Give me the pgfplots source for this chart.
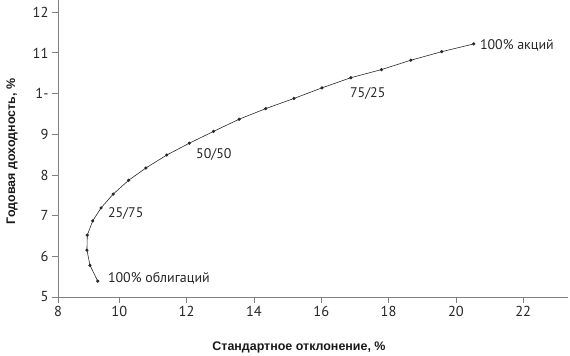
\documentclass[border=0pt]{standalone}
\usepackage{fontspec}
\setmainfont{PT Sans}
\newfontfamily\labelfont{Liberation Sans}
\usepackage{pgfplots}
\pgfplotsset{compat=1.18}
\begin{document}
\begin{tikzpicture}
\begin{axis}[
 scale only axis, width=510bp, height=297bp,
 xmin=8.18, xmax=23.33, ymin=5, ymax=12.3,
 axis lines*=left,
 axis line style={draw=black!50, line width=0.8pt},
 xtick={8.18,10,12,14,16,18,20,22}, xticklabels={8,10,12,14,16,18,20,22},
 ytick={5,6,...,12},
 yticklabels={5,6,7,8,9,1-,11,12},
 tick align=outside, major tick length=6bp,
 tick style={draw=black!50, line width=0.8pt},
 ticklabel style={font=\fontsize{14.5}{16}\selectfont, text=black!85},
 /pgf/number format/assume math mode=true,
 xlabel={Стандартное отклонение, \%},
 ylabel={Годовая доходность, \%},
 label style={font=\labelfont\fontsize{12.5}{14}\selectfont\bfseries, text=black!90},
 xlabel style={at={(axis description cs:0.4725,0)}, anchor=center, yshift=-50bp},
 ylabel style={at={(axis description cs:-0.09,0.49)}, anchor=center},
 clip=false,
]
\coordinate (O) at (rel axis cs:0,0);
\addplot[black!85, line width=0.6pt, mark=*, mark size=1.3pt] coordinates {
(9.36,5.39) (9.13,5.78) (9.04,6.15) (9.05,6.52) (9.21,6.87) (9.46,7.19)
(9.82,7.53) (10.28,7.87) (10.79,8.17) (11.41,8.49) (12.08,8.78)
(12.80,9.07) (13.56,9.37) (14.35,9.63) (15.19,9.88) (16.02,10.14)
(16.88,10.39) (17.79,10.59) (18.66,10.82) (19.58,11.03) (20.53,11.22)
};
\begin{scope}[every node/.style={anchor=west, font=\fontsize{14}{15}\selectfont, text=black!85, inner sep=0pt}]
\node at (axis cs:9.66,5.47) {100\% облигаций};
\node at (axis cs:9.66,7.06) {25/75};
\node at (axis cs:12.28,8.51) {50/50};
\node at (axis cs:16.85,10.01) {75/25};
\node at (axis cs:20.71,11.19) {100\% акций};
\end{scope}
\end{axis}
\pgfresetboundingbox
\path ([shift={(-58bp,-59bp)}]O) rectangle ++(570bp,356bp);
\end{tikzpicture}
\end{document}
